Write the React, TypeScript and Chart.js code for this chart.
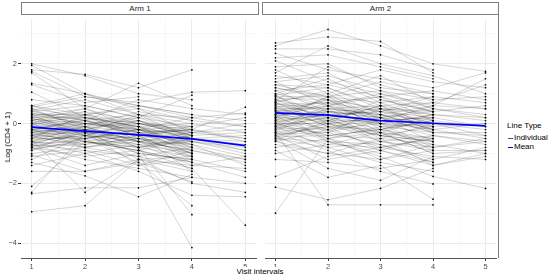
import React, { useEffect, useRef } from "react";
import { Chart, registerables } from "chart.js";

Chart.register(...registerables);

const visits = [1, 2, 3, 4, 5];
const xTickLabels = [1, 2, 3, 4, 5];
const xGridValues = [1, 1.5, 2, 2.5, 3, 3.5, 4, 4.5, 5];
const yGridValues = [-4, -3, -2, -1, 0, 1, 2, 3];
const yTickLabels = [-4, -2, 0, 2];
const panelTitles = ["Arm 1", "Arm 2"];
const legendTitle = "Line Type";
const legendLabels = ["Individual", "Mean"];
const xTitle = "Visit intervals";
const yTitle = "Log (CD4 + 1)";

const arm1Mean = [-0.12, -0.25, -0.38, -0.51, -0.74];
const arm2Mean = [0.36, 0.28, 0.1, 0.01, -0.08];

type V = number | null;

const arm1Subjects: V[][] = [
  [2.0, 1.6, 1.0, 0.8, null],
  [1.95, 1.0, 0.6, 0.3, 0.1],
  [1.8, 1.65, 1.2, 1.8, null],
  [1.75, 0.9, 0.7, 1.05, 1.1],
  [1.7, 0.5, 1.35, 0.6, null],
  [1.35, 1.0, 0.3, -0.2, 0.55],
  [1.3, 0.7, 0.9, null, null],
  [1.05, 0.2, -0.1, 0.0, -0.3],
  [0.8, 0.6, 0.2, 0.95, null],
  [0.6, 0.3, 0.5, -0.3, null],
  [0.5, -0.2, 0.1, -0.5, -0.7],
  [0.45, 0.8, 0.3, 0.2, 0.35],
  [0.4, 0.1, -0.4, -0.6, null],
  [0.35, 0.0, 0.2, null, null],
  [0.3, -0.4, -0.6, -0.9, -1.2],
  [0.25, 0.5, 0.0, -0.2, null],
  [0.2, 0.2, -0.3, -0.7, null],
  [0.15, -0.1, 0.4, 0.1, -0.1],
  [0.1, 0.3, -0.2, -0.4, null],
  [0.05, -0.3, -0.5, -1.0, null],
  [0.0, 0.4, 0.1, -0.3, -0.5],
  [-0.05, -0.2, null, null, null],
  [-0.1, 0.0, -0.3, -0.2, null],
  [-0.1, -0.5, -0.2, -0.6, -1.0],
  [-0.15, 0.1, -0.4, -1.2, null],
  [-0.2, -0.4, 0.0, -0.4, null],
  [-0.2, -0.6, -0.9, -1.5, -3.4],
  [-0.25, 0.2, -0.1, -0.5, null],
  [-0.3, -0.1, -0.6, -0.3, 0.0],
  [-0.3, -0.7, -0.5, null, null],
  [-0.35, -0.3, -1.0, -4.15, null],
  [-0.4, 0.0, -0.2, -0.7, -1.4],
  [-0.4, -0.8, -0.4, -0.1, null],
  [-0.45, -0.2, -0.8, -1.1, null],
  [-0.5, -0.5, -0.3, -0.6, -0.9],
  [-0.5, 0.3, -0.6, -1.3, null],
  [-0.55, -2.3, -1.2, -2.0, -2.3],
  [-0.6, -0.4, 0.1, -0.4, null],
  [-0.6, -1.0, -0.7, -1.0, null],
  [-0.65, -0.6, -0.9, -0.5, -0.6],
  [-0.7, -0.2, -0.4, -1.6, null],
  [-0.7, -1.2, -1.5, -1.8, -2.0],
  [-0.75, -0.7, null, null, null],
  [-0.8, -0.3, -0.5, -1.0, null],
  [-0.8, -1.4, -1.0, -1.2, -1.6],
  [-0.9, -0.5, -1.3, -2.75, null],
  [-1.0, -0.8, -0.6, -0.9, null],
  [-1.05, -1.6, -1.2, -1.4, -1.1],
  [-1.2, -0.4, -0.8, -3.05, null],
  [-1.3, -1.75, -2.45, -1.7, null],
  [-1.4, -1.0, -1.6, -2.4, -2.45],
  [-1.6, -1.6, -1.3, -1.95, null],
  [-2.1, -0.6, -0.9, -1.3, null],
  [-2.3, -0.3, -1.4, -0.9, null],
  [-2.35, -2.15, -2.15, -1.8, null],
  [-2.95, -2.75, -1.2, -1.1, null],
  [0.55, 0.9, 0.6, 0.3, null],
  [-0.2, -0.3, -0.2, -0.3, -0.2],
  [0.0, -0.6, -0.8, -0.4, null],
  [0.6, 0.1, 0.8, 0.5, 0.3],
  [0.5, 0.2, 0.0, -0.4, null],
  [0.45, -0.1, -0.3, -0.2, -0.6],
  [0.4, 0.6, 0.2, -0.1, null],
  [0.35, 0.1, 0.3, 0.0, null],
  [0.3, 0.0, -0.2, -0.5, -0.4],
  [0.25, -0.3, -0.1, -0.8, null],
  [0.2, 0.4, -0.5, -0.3, null],
  [0.15, 0.0, 0.1, -0.6, -0.8],
  [0.1, -0.2, -0.4, -0.2, null],
  [0.05, 0.2, -0.1, -0.9, null],
  [0.0, -0.1, -0.6, -0.7, -1.1],
  [-0.05, 0.3, 0.0, -0.1, null],
  [-0.1, -0.4, -0.5, -0.8, null],
  [-0.15, -0.2, 0.2, -0.4, -0.3],
  [-0.2, 0.1, -0.3, -1.0, null],
  [-0.25, -0.5, -0.7, -0.6, null],
  [-0.3, 0.0, -0.1, -0.5, -0.9],
  [-0.35, -0.6, -0.4, -1.1, null],
  [-0.4, -0.1, -0.8, -0.6, null],
  [-0.45, -0.7, -0.3, -0.9, -1.3],
  [-0.5, -0.2, -0.6, -0.4, null],
  [-0.55, -0.4, -1.0, -1.2, null],
  [-0.6, -0.8, -0.5, -0.7, null],
  [-0.65, -0.3, -0.7, -1.4, -1.5],
  [-0.7, -0.9, -1.1, -0.8, null],
  [-0.75, -0.5, -0.2, -1.0, null],
  [-0.8, -1.1, -0.9, -1.3, -1.8],
  [-0.85, -0.6, -0.8, -0.5, null],
  [-0.9, -0.2, -1.2, -1.6, null],
  [0.0, 0.1, -0.2, -0.1, 0.2],
  [-0.1, -0.3, 0.3, -0.5, null],
  [0.2, -0.4, -0.6, -1.1, null],
  [-0.3, -0.2, -0.4, -0.2, -0.5],
  [0.6, 1.0, 0.5, 0.1, null],
  [-0.6, -0.1, 0.0, -0.3, null],
  [0.1, 0.5, -0.2, -0.8, -1.2],
  [-0.2, -0.8, -1.1, -1.5, null],
  [0.3, 0.3, 0.6, 0.2, null],
  [-0.4, -0.5, -0.2, 0.2, -0.1],
  [-1.1, -0.9, -1.4, -1.2, null],
];

const arm2Subjects: V[][] = [
  [2.7, 2.9, 2.75, 1.7, null],
  [2.6, 3.15, 2.6, 2.0, 1.75],
  [2.5, 2.5, 2.3, 1.8, null],
  [2.35, 1.8, 1.5, 1.2, 1.7],
  [2.2, 2.3, 1.9, 1.5, null],
  [2.1, 1.4, 1.0, 0.6, 1.5],
  [1.9, 2.0, 1.2, 1.0, null],
  [1.8, 1.0, 1.6, 0.7, 1.3],
  [1.5, 1.7, 0.8, 0.4, null],
  [1.4, 0.6, 0.9, 1.1, 0.8],
  [1.3, 1.2, 0.5, null, null],
  [1.2, 0.9, 1.1, 0.5, 0.2],
  [1.1, 0.4, 0.2, -0.3, null],
  [1.0, 1.5, 0.7, 0.9, null],
  [0.9, 0.3, 0.4, 0.0, -0.2],
  [0.85, 0.8, -0.2, 0.3, null],
  [0.8, 0.1, 0.6, -0.1, null],
  [0.7, 1.1, 0.3, 0.6, 0.5],
  [0.65, 0.5, -0.4, -0.6, null],
  [0.6, -0.1, 0.1, 0.2, null],
  [0.55, 0.7, 0.9, 0.1, -0.1],
  [0.5, 0.2, null, null, null],
  [0.45, -0.3, 0.5, 0.4, null],
  [0.4, 0.6, 0.0, -0.2, -0.5],
  [0.35, 0.0, -0.6, -0.9, null],
  [0.3, 0.4, 0.2, 0.0, null],
  [0.25, -0.5, -0.3, -1.0, -0.9],
  [0.2, 0.9, 0.4, 0.7, null],
  [0.15, -0.2, -0.8, -0.5, null],
  [0.1, 0.3, 0.0, 0.3, 0.1],
  [0.05, -0.6, -1.0, null, null],
  [0.0, 0.5, 0.3, -0.2, null],
  [0.0, -0.4, -0.5, -0.7, -1.0],
  [-0.05, 0.2, -0.2, 0.1, null],
  [-0.1, -0.8, -1.3, -1.6, null],
  [-0.15, 0.1, 0.6, -0.3, -0.4],
  [-0.2, -0.3, -0.7, -1.2, null],
  [-0.25, 0.4, -0.1, 0.0, null],
  [-0.3, -0.9, -1.6, -2.02, null],
  [-0.35, -0.1, -0.4, -0.8, -0.6],
  [-0.4, -1.2, -0.9, -0.4, null],
  [-0.45, 0.0, 0.2, -0.6, null],
  [-0.5, -0.6, -1.1, -1.77, -2.17],
  [-0.55, -1.5, -1.9, -1.1, null],
  [-0.6, -0.2, null, null, null],
  [-0.7, -1.0, -0.5, -1.4, -1.0],
  [-0.8, -0.5, -1.2, -0.7, null],
  [-0.9, -1.8, -1.4, -2.53, null],
  [-1.0, -0.7, -0.3, -1.0, null],
  [-1.2, -1.3, -1.5, -1.2, -0.8],
  [-1.77, -1.1, -0.8, -0.5, null],
  [-2.13, -2.55, -2.17, -1.5, null],
  [-3.0, -0.5, -0.9, -1.3, null],
  [-0.3, -2.72, -2.72, -2.72, null],
  [1.6, 1.3, 1.8, 1.4, 1.2],
  [0.75, 1.9, 1.3, 0.8, null],
  [-0.1, 0.6, 1.0, 0.5, 0.3],
  [0.95, 0.0, -0.3, 0.2, null],
  [0.3, 0.8, 0.0, -0.1, 0.0],
  [1.7, 2.6, 2.0, 1.6, 1.0],
  [1.2, 0.8, 0.5, 0.3, null],
  [1.1, 1.3, 0.9, 0.4, 0.6],
  [1.0, 0.6, 0.2, 0.5, null],
  [0.9, 0.9, 0.7, 0.1, null],
  [0.8, 0.4, 0.3, -0.2, 0.0],
  [0.75, 1.0, 0.1, 0.6, null],
  [0.7, 0.2, 0.5, 0.0, null],
  [0.65, 0.7, -0.1, -0.3, -0.3],
  [0.6, 0.3, 0.4, 0.2, null],
  [0.55, -0.1, -0.2, -0.5, null],
  [0.5, 0.5, 0.6, 0.3, 0.2],
  [0.45, 0.1, -0.4, -0.1, null],
  [0.4, 0.8, 0.2, 0.4, null],
  [0.35, 0.2, 0.0, -0.4, -0.6],
  [0.3, -0.2, 0.3, 0.1, null],
  [0.25, 0.6, -0.3, -0.6, null],
  [0.2, 0.1, 0.1, 0.2, -0.1],
  [0.15, 0.4, 0.5, -0.2, null],
  [0.1, -0.4, -0.2, -0.7, null],
  [0.05, 0.3, -0.5, 0.0, -0.4],
  [0.0, 0.0, 0.2, -0.3, null],
  [-0.05, -0.5, -0.1, -0.9, null],
  [-0.1, 0.2, -0.6, -0.4, -0.7],
  [-0.15, -0.2, 0.0, 0.3, null],
  [-0.2, 0.5, 0.3, -0.1, null],
  [-0.25, -0.7, -0.8, -1.1, -1.2],
  [-0.3, 0.0, -0.4, -0.6, null],
  [-0.35, -0.3, 0.1, -0.2, null],
  [-0.4, -0.1, -0.9, -1.4, -1.1],
  [-0.5, -0.8, -0.6, -0.8, null],
  [-0.55, 0.1, -0.3, -0.5, null],
  [-0.6, -1.0, -1.2, -0.9, -0.9],
  [1.4, 1.6, 1.1, 0.8, 0.9],
  [1.3, 0.9, 1.4, 1.0, null],
  [0.95, 1.2, 0.6, 0.7, 0.5],
  [0.45, -0.6, -0.7, -1.3, null],
  [0.7, 0.0, 0.8, 0.4, null],
  [0.2, 0.7, 0.4, 0.9, 0.7],
  [-0.45, -0.4, -0.2, 0.1, null],
  [0.1, 0.9, 0.0, -0.8, -0.5],
];

const FONT = "'Liberation Sans', Arial, Helvetica, sans-serif";
const TICK_COLOR = "#4d4d4d";

function toPoints(vals: V[]) {
  const pts: { x: number; y: number }[] = [];
  vals.forEach((v, i) => {
    if (v !== null && v !== undefined) pts.push({ x: visits[i], y: v });
  });
  return pts;
}

function makeConfig(subjects: V[][], mean: number[], showY: boolean): any {
  const datasets: any[] = [
    {
      data: toPoints(mean),
      borderColor: "#0000ff",
      borderWidth: 1.7,
      pointRadius: 0,
      order: 0,
    },
  ];
  subjects.forEach((s) => {
    datasets.push({
      data: toPoints(s),
      borderColor: "rgba(0,0,0,0.28)",
      borderWidth: 0.6,
      pointRadius: 0.85,
      pointBorderWidth: 0,
      pointBackgroundColor: "#000000",
      order: 1,
    });
  });
  return {
    type: "line",
    data: { datasets },
    options: {
      animation: false,
      responsive: false,
      maintainAspectRatio: false,
      events: [],
      layout: { padding: { left: 0, right: 1, top: 0, bottom: 0 } },
      plugins: { legend: { display: false }, tooltip: { enabled: false } },
      scales: {
        x: {
          type: "linear",
          min: 0.8,
          max: 5.2,
          afterBuildTicks: (s: any) => {
            s.ticks = xGridValues.map((v) => ({ value: v }));
          },
          afterFit: (s: any) => {
            s.height = 22;
            s.paddingLeft = 0;
            s.paddingRight = 0;
          },
          ticks: {
            autoSkip: false,
            maxRotation: 0,
            padding: 1,
            color: TICK_COLOR,
            font: { family: FONT, size: 7.5 },
            callback: (v: number) => (xTickLabels.includes(v) ? String(v) : ""),
          },
          grid: {
            color: (c: any) => (c.tick && c.tick.value % 1 !== 0 ? "#f4f4f4" : "#ebebeb"),
            lineWidth: (c: any) => (c.tick && c.tick.value % 1 !== 0 ? 0.6 : 1),
            tickLength: 3,
            tickColor: (c: any) => (c.tick && c.tick.value % 1 !== 0 ? "rgba(0,0,0,0)" : "#333333"),
          },
          border: { display: true, color: "#555555", width: 1 },
        },
        y: {
          type: "linear",
          min: -4.5,
          max: 3.5,
          afterBuildTicks: (s: any) => {
            s.ticks = yGridValues.map((v) => ({ value: v }));
          },
          afterFit: (s: any) => {
            s.width = showY ? 21 : 1;
            s.paddingTop = 0;
            s.paddingBottom = 0;
          },
          ticks: {
            display: showY,
            autoSkip: false,
            padding: 1,
            color: TICK_COLOR,
            font: { family: FONT, size: 7.5 },
            callback: (v: number) =>
              yTickLabels.includes(v) ? (v < 0 ? "\u2212" + Math.abs(v) : String(v)) : "",
          },
          grid: {
            color: (c: any) => (c.tick && Math.abs(c.tick.value) % 2 === 1 ? "#f4f4f4" : "#ebebeb"),
            lineWidth: (c: any) => (c.tick && Math.abs(c.tick.value) % 2 === 1 ? 0.6 : 1),
            drawTicks: showY,
            tickLength: 3,
            tickColor: (c: any) =>
              c.tick && Math.abs(c.tick.value) % 2 === 1 ? "rgba(0,0,0,0)" : "#333333",
          },
          border: { display: false },
        },
      },
    },
  };
}

function Panel({ subjects, mean, showY, left, width }: any) {
  const ref = useRef<HTMLCanvasElement>(null);
  useEffect(() => {
    if (!ref.current) return;
    const chart = new Chart(ref.current, makeConfig(subjects, mean, showY));
    return () => chart.destroy();
  }, []);
  return (
    <canvas
      ref={ref}
      width={width}
      height={265}
      style={{ position: "absolute", left, top: 15, width, height: 265 }}
    />
  );
}

const stripStyle: React.CSSProperties = {
  position: "absolute",
  top: 2,
  height: 13,
  boxSizing: "border-box",
  border: "1px solid #7f7f7f",
  background: "#ffffff",
  fontFamily: FONT,
  fontSize: 8,
  color: "#1a1a1a",
  textAlign: "center",
  lineHeight: "11px",
};

const textStyle: React.CSSProperties = {
  position: "absolute",
  fontFamily: FONT,
  fontSize: 8,
  color: "#000000",
  background: "#ffffff",
  whiteSpace: "nowrap",
  lineHeight: "10px",
};

export default function App() {
  return (
    <div
      style={{
        position: "fixed",
        left: 0,
        top: 0,
        width: 560,
        height: 280,
        background: "#ffffff",
        overflow: "hidden",
      }}
    >
      <Panel subjects={arm1Subjects} mean={arm1Mean} showY={true} left={0} width={260} />
      <Panel subjects={arm2Subjects} mean={arm2Mean} showY={false} left={261} width={239} />
      <div style={{ position: "absolute", left: 498, top: 15, width: 1, height: 243, background: "#7f7f7f" }} />
      <div style={{ ...stripStyle, left: 21, width: 238 }}>{panelTitles[0]}</div>
      <div style={{ ...stripStyle, left: 262, width: 237 }}>{panelTitles[1]}</div>
      <div style={{ ...textStyle, left: 260, top: 272, transform: "translate(-50%,-50%)" }}>{xTitle}</div>
      <div
        style={{
          ...textStyle,
          left: 7.5,
          top: 136.5,
          transform: "translate(-50%,-50%) rotate(-90deg)",
        }}
      >
        {yTitle}
      </div>
      <div style={{ ...textStyle, left: 507, top: 121 }}>{legendTitle}</div>
      <div style={{ position: "absolute", left: 508, top: 138, width: 5, height: 1, background: "#555555" }} />
      <div style={{ ...textStyle, left: 514, top: 133 }}>{legendLabels[0]}</div>
      <div style={{ position: "absolute", left: 508, top: 147, width: 5, height: 1, background: "#0000ff" }} />
      <div style={{ ...textStyle, left: 514, top: 142 }}>{legendLabels[1]}</div>
    </div>
  );
}
